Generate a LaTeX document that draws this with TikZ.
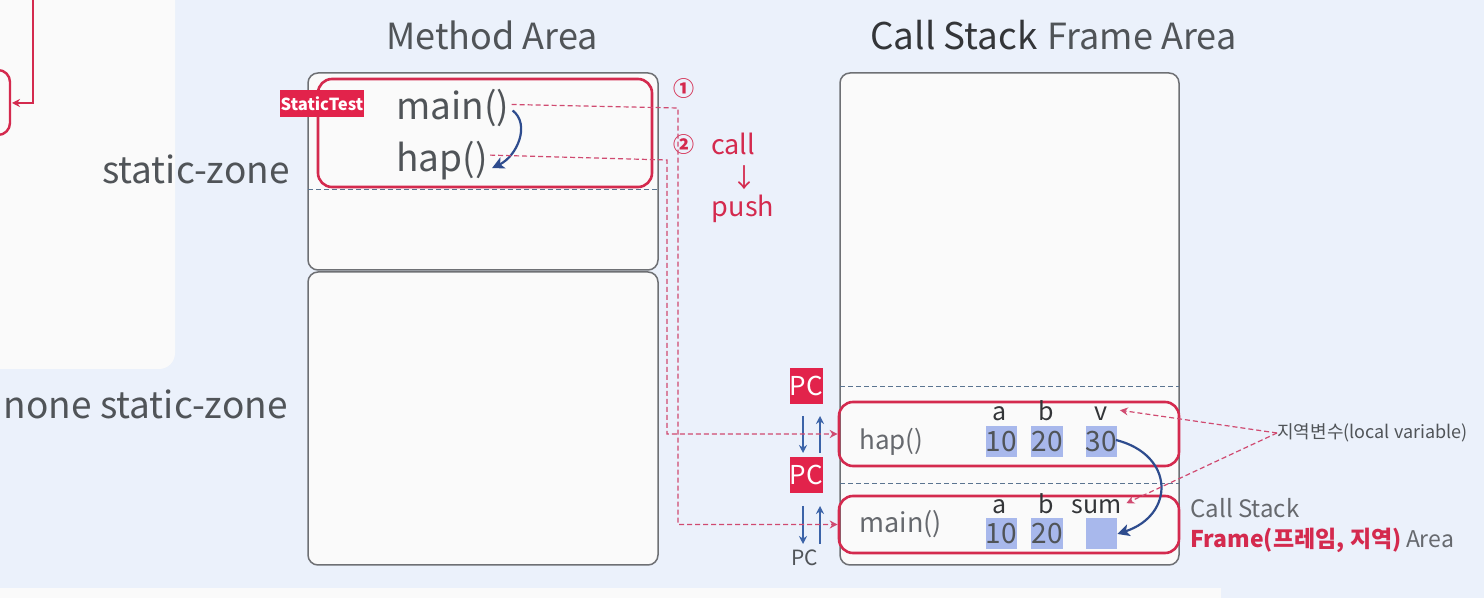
\documentclass[tikz,border=0pt]{standalone}
\usepackage{fontspec}
\setmainfont{Noto Sans CJK KR}
\usetikzlibrary{arrows.meta,fit,calc}
\definecolor{bg}{HTML}{EBF1FB}
\definecolor{panel}{HTML}{FAFAFA}
\definecolor{boxgray}{HTML}{6E7074}
\definecolor{crim}{HTML}{D42A4E}
\definecolor{tagred}{HTML}{E2234B}
\definecolor{dashblue}{HTML}{5A7490}
\definecolor{arrblue}{HTML}{2E4C8E}
\definecolor{pcblue}{HTML}{3B63A8}
\definecolor{valblue}{HTML}{A8B8EC}
\definecolor{txtgray}{HTML}{505458}
\definecolor{lightgray}{HTML}{66696E}
\definecolor{darktxt}{HTML}{333538}
\definecolor{pinkdash}{HTML}{D04A70}
\newcommand{\fs}[1]{\fontsize{#1}{#1}\selectfont}
\tikzset{
  areabox/.style={draw=boxgray, line width=0.75pt, fill=panel, rounded corners=5pt, inner sep=0pt},
  redframe/.style={draw=crim, line width=1.3pt, rounded corners=7pt, inner sep=0pt},
  zoneline/.style={draw=dashblue, line width=0.5pt, dash pattern=on 2.5pt off 1.5pt},
  reddash/.style={draw=pinkdash, line width=0.6pt, dash pattern=on 2.5pt off 1.5pt},
  redtip/.style={-{Stealth[length=4pt,width=4pt]}},
  bluecurve/.style={draw=arrblue, line width=1.1pt, -{Stealth[length=6pt,width=6pt,inset=1.5pt]}},
  pcarrow/.style={draw=pcblue, line width=1pt, -{Stealth[length=4pt,width=4pt]}},
  pcbox/.style={fill=tagred, text=white, minimum width=16.5pt, minimum height=18pt, inner sep=0pt, font=\fs{13}},
  valbox/.style={fill=valblue, text=txtgray, minimum width=15.5pt, minimum height=15.5pt, inner sep=0pt, font=\fs{14}},
  varlabel/.style={anchor=base, text=darktxt, font=\fs{12.5}, inner sep=0pt},
}
\begin{document}
\begin{tikzpicture}[x=0.5pt,y=-0.5pt]
\useasboundingbox (0,0) rectangle (1484,598);
\clip (0,0) rectangle (1484,598);
% backgrounds
\fill[bg] (0,0) rectangle (1484,598);
\fill[panel, rounded corners=8pt] (-40,-40) rectangle (175,369);
\fill[panel] (0,588) rectangle (1221,610);
% left panel fragments
\draw[crim, line width=1.2pt, rounded corners=6pt] (-30,70) rectangle (10,135);
\coordinate (lp1) at (33,-5);
\coordinate (lp2) at (33,103);
\coordinate (lp3) at (12,103);
\draw[crim, line width=1.2pt, -{Stealth[length=4pt,width=4pt]}] (lp1) -- (lp2) -- (lp3);

% titles
\node[anchor=base, text=txtgray, font=\fs{18}, inner sep=0pt] (mtitle) at (492,50) {Method Area};
\node[anchor=base west, inner sep=0pt] (ctitle) at (870,50) {\textcolor{darktxt}{\fs{18.4}Call Stack}\hspace{5pt}\textcolor{txtgray}{\fs{18}Frame Area}};

% zone labels
\node[anchor=base east, text=txtgray, font=\fs{18.5}, inner sep=0pt] (sz) at (290,184) {static-zone};
\node[anchor=base east, text=txtgray, font=\fs{18.5}, inner sep=0pt] (nsz) at (288,419) {none static-zone};

% method area boxes
\node[areabox, fit={(308,73) (658,270)}] (mup) {};
\node[areabox, fit={(308,272) (658,565)}] (mlow) {};
\coordinate (zl1) at (308,190);
\coordinate (zl2) at (658,190);
\draw[zoneline] (zl1) -- (zl2);
\node[redframe, fit={(318,79) (652,187)}] (sframe) {};
\node[fill=tagred, text=white, font=\bfseries\fs{8.3}, inner sep=0pt, minimum width=42pt, minimum height=13.5pt] (tag) at (322,104) {StaticTest};
\node[anchor=base west, text=txtgray, font=\fs{18.5}, inner sep=0pt] (mainM) at (396,120) {main()};
\node[anchor=base west, text=txtgray, font=\fs{18.5}, inner sep=0pt] (hapM) at (396,172) {hap()};
\draw[bluecurve] ($(mainM.east)+(3,2)$) .. controls +(18,14) and +(25,-12) .. ($(hapM.east)+(4,7)$);

% call stack area
\node[areabox, fit={(840,73) (1179,565)}] (cs) {};
\coordinate (d1a) at (840,387);
\coordinate (d1b) at (1179,387);
\coordinate (d2a) at (840,484);
\coordinate (d2b) at (1179,484);
\draw[zoneline] (d1a) -- (d1b);
\draw[zoneline] (d2a) -- (d2b);
\node[redframe, fit={(839,402) (1179,466)}] (hframe) {};
\node[redframe, fit={(839,496) (1179,553)}] (mframe) {};
\node[anchor=base west, text=lightgray, font=\fs{13}, inner sep=0pt] (hapF) at (859,450) {hap()};
\node[anchor=base west, text=lightgray, font=\fs{13.5}, inner sep=0pt] (mainF) at (859,532) {main()};

% values
\node[valbox] (h10) at (1001.5,441.5) {10};
\node[valbox] (h20) at (1047,441.5) {20};
\node[valbox] (h30) at (1101.5,441.5) {30};
\node[valbox] (m10) at (1001.5,534) {10};
\node[valbox] (m20) at (1047,534) {20};
\node[valbox] (msum) at (1101.5,534) {};
\node[varlabel] (ha) at (1000,421) {a};
\node[varlabel] (hb) at (1046,421) {b};
\node[varlabel] (hv) at (1101,421) {v};
\node[varlabel] (ma) at (1000,514) {a};
\node[varlabel] (mb) at (1046,514) {b};
\node[varlabel] (ms) at (1097,514) {sum};
\coordinate (bc0) at (1116,440);
\draw[bluecurve] (bc0) .. controls (1175,455) and (1175,515) .. (msum.east);

% PC markers
\node[pcbox] (pc1) at (806.5,386) {PC};
\node[pcbox] (pc2) at (806.5,475) {PC};
\node[anchor=base, text=txtgray, font=\fs{10.5}, inner sep=0pt] (pc3) at (805,566) {PC};
\coordinate (p1a) at (803,416);
\coordinate (p1b) at (803,453);
\coordinate (p2a) at (820,453);
\coordinate (p2b) at (820,416);
\draw[pcarrow] (p1a) -- (p1b);
\draw[pcarrow] (p2a) -- (p2b);
\coordinate (p3a) at (803,506);
\coordinate (p3b) at (803,544);
\coordinate (p4a) at (820,544);
\coordinate (p4b) at (820,506);
\draw[pcarrow] (p3a) -- (p3b);
\draw[pcarrow] (p4a) -- (p4b);

% call -> push
\node[text=crim, font=\bfseries\fs{10.5}, inner sep=0pt] (n1) at (684,89) {①};
\node[text=crim, font=\bfseries\fs{10.5}, inner sep=0pt] (n2) at (684,145) {②};
\node[anchor=base, text=crim, font=\fs{13.5}, inner sep=0pt] (call) at (733,155) {call};
\node[text=crim, font=\fs{13}, inner sep=0pt] (down) at (744,178) {↓};
\node[anchor=base, text=crim, font=\fs{13.5}, inner sep=0pt] (push) at (743,217) {push};

% dashed call connectors
\coordinate (k1) at (678,108);
\coordinate (k2) at (667,160);
\draw[reddash, redtip] ($(mainM.east)+(2,-4)$) -- (k1) |- (mframe.west);
\draw[reddash, redtip] ($(hapM.east)+(2,-6)$) -- (k2) |- (hframe.west);

% local variable labels
\node[anchor=west, text=txtgray, font=\fs{9}, inner sep=0pt] (lv) at (1277,433) {지역변수(local variable)};
\draw[reddash, redtip] (lv.west) -- ($(hv.east)+(12,-4)$);
\draw[reddash, redtip] (lv.west) -- ($(ms.east)+(4,-4)$);

% call stack frame area caption
\node[anchor=base west, text=lightgray, font=\fs{12}, inner sep=0pt] (cs1) at (1190,518) {Call Stack};
\node[anchor=base west, inner sep=0pt] (cs2) at (1190,548) {\textcolor{crim}{\bfseries\fs{11.5}Frame(프레임, 지역)} \textcolor{lightgray}{\fs{11.5}Area}};
\end{tikzpicture}
\end{document}
